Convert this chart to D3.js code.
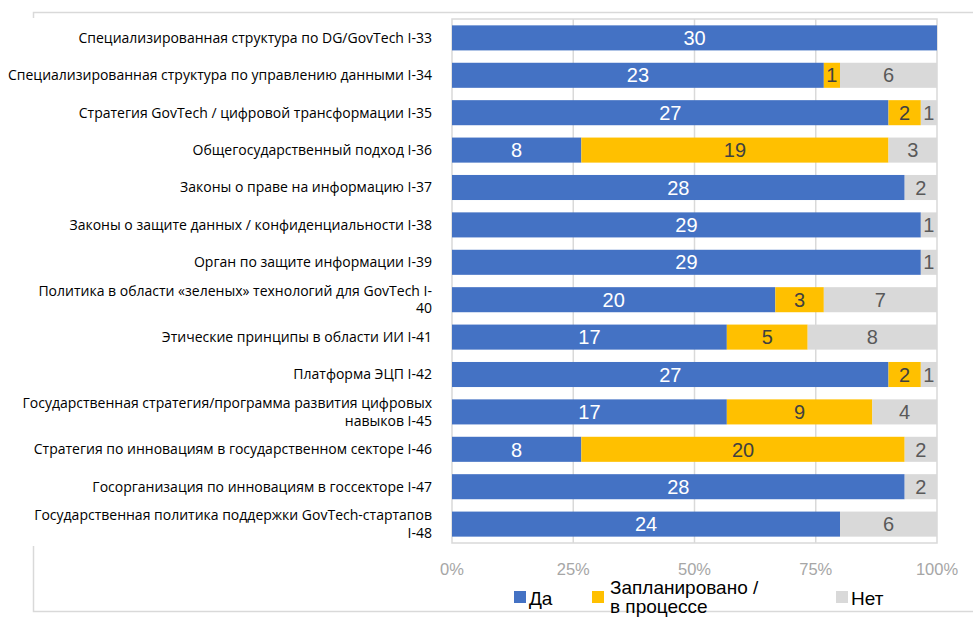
<!DOCTYPE html>
<html>
<head>
<meta charset="utf-8">
<script src="https://cdn.jsdelivr.net/npm/d3@7"></script>
<style>
  body { margin: 0; background: #fff; }
  svg { display: block; }
</style>
</head>
<body>
<div id="chart"></div>
<script>
const categories = [
    'Специализированная структура по DG/GovTech I-33',
    'Специализированная структура по управлению данными I-34',
    'Стратегия GovTech / цифровой трансформации I-35',
    'Общегосударственный подход I-36',
    'Законы о праве на информацию I-37',
    'Законы о защите данных / конфиденциальности I-38',
    'Орган по защите информации I-39',
    'Политика в области «зеленых» технологий для GovTech I-\n40',
    'Этические принципы в области ИИ I-41',
    'Платформа ЭЦП I-42',
    'Государственная стратегия/программа развития цифровых\nнавыков I-45',
    'Стратегия по инновациям в государственном секторе I-46',
    'Госорганизация по инновациям в госсекторе I-47',
    'Государственная политика поддержки GovTech-стартапов\nI-48'
];
const yesValues     = [30, 23, 27, 8, 28, 29, 29, 20, 17, 27, 17, 8, 28, 24];
const plannedValues = [0, 1, 2, 19, 0, 0, 0, 3, 5, 2, 9, 20, 0, 0];
const noValues      = [0, 6, 1, 3, 2, 1, 1, 7, 8, 1, 4, 2, 2, 6];
const seriesNames = ['Да', 'Запланировано /\nв процессе', 'Нет'];
const tickValues = [0, 0.25, 0.5, 0.75, 1];

const width = 973, height = 618;
const margin = { top: 19, right: 36, bottom: 75, left: 452 };
const colors = ['#4472c4', '#ffc000', '#d9d9d9'];
const labelColors = ['#ffffff', '#404040', '#595959'];

const rows = categories.map((c, i) => ({
    name: c, vals: [yesValues[i], plannedValues[i], noValues[i]]
}));

const svg = d3.select('#chart').append('svg')
    .attr('width', width).attr('height', height);

// outer frame, partly hidden behind the label column
svg.append('rect')
    .attr('x', 33.5).attr('y', 12.5)
    .attr('width', width + 10).attr('height', 599)
    .attr('fill', 'none').attr('stroke', '#d9d9d9').attr('stroke-width', 1.5);
svg.append('rect')
    .attr('x', 0).attr('y', 18).attr('width', 446).attr('height', 528)
    .attr('fill', '#fff');

const x = d3.scaleLinear().domain([0, 1]).range([margin.left, width - margin.right]);
const y = d3.scaleBand()
    .domain(d3.range(categories.length))
    .range([margin.top, height - margin.bottom])
    .paddingInner(0.33).paddingOuter(0.17);

// plot frame + grid
svg.append('rect')
    .attr('x', margin.left).attr('y', margin.top)
    .attr('width', x(1) - margin.left).attr('height', height - margin.bottom - margin.top)
    .attr('fill', 'none').attr('stroke', '#d9d9d9').attr('stroke-width', 1.5);
svg.append('g')
    .selectAll('line')
    .data(tickValues.slice(1, -1))
    .join('line')
    .attr('x1', d => x(d)).attr('x2', d => x(d))
    .attr('y1', margin.top).attr('y2', height - margin.bottom)
    .attr('stroke', '#d9d9d9').attr('stroke-width', 1.5);

// bars
const rowG = svg.append('g').selectAll('g')
    .data(rows)
    .join('g');

rowG.each(function(d, i) {
    const total = d3.sum(d.vals);
    let acc = 0;
    const g = d3.select(this);
    d.vals.forEach((v, k) => {
        const x0 = x(acc / total);
        acc += v;
        const x1 = x(acc / total);
        if (v === 0) return;
        g.append('rect')
            .attr('x', x0).attr('y', y(i))
            .attr('width', x1 - x0).attr('height', y.bandwidth())
            .attr('fill', colors[k]);
        g.append('text')
            .attr('x', (x0 + x1) / 2).attr('y', y(i) + y.bandwidth() / 2)
            .attr('dy', '0.36em')
            .attr('text-anchor', 'middle')
            .attr('font-family', 'Liberation Sans, Arial, sans-serif')
            .attr('font-size', 20)
            .attr('fill', labelColors[k])
            .text(v);
    });
});

// category labels
const catG = svg.append('g')
    .attr('font-family', 'Open Sans, sans-serif')
    .attr('font-size', 14)
    .attr('fill', '#000');
categories.forEach((c, i) => {
    const lines = c.split('\n');
    const cy = y(i) + y.bandwidth() / 2;
    const lh = 17.5;
    const t = catG.append('text')
        .attr('text-anchor', 'end');
    lines.forEach((ln, j) => {
        t.append('tspan')
            .attr('x', 432)
            .attr('y', cy + (j - (lines.length - 1) / 2) * lh)
            .attr('dy', '0.35em')
            .text(ln);
    });
});

// x axis labels
svg.append('g')
    .selectAll('text')
    .data(tickValues)
    .join('text')
    .attr('x', d => x(d))
    .attr('y', 575)
    .attr('text-anchor', 'middle')
    .attr('font-family', 'Liberation Sans, Arial, sans-serif')
    .attr('font-size', 16.5)
    .attr('fill', '#a6a6a6')
    .text(d3.format('.0%'));

// legend
const legendX = [514, 592, 836];
const legend = svg.append('g')
    .attr('font-family', 'Liberation Sans, Arial, sans-serif')
    .attr('font-size', 19)
    .attr('fill', '#000');
seriesNames.forEach((s, k) => {
    legend.append('rect')
        .attr('x', legendX[k]).attr('y', 591)
        .attr('width', 12).attr('height', 12)
        .attr('fill', colors[k]);
    const lines = s.split('\n');
    const t = legend.append('text');
    lines.forEach((ln, j) => {
        t.append('tspan')
            .attr('x', legendX[k] + (k === 1 ? 18 : 15))
            .attr('y', (lines.length === 1 ? 605 : 594 + j * 19))
            .text(ln);
    });
});
</script>
</body>
</html>
